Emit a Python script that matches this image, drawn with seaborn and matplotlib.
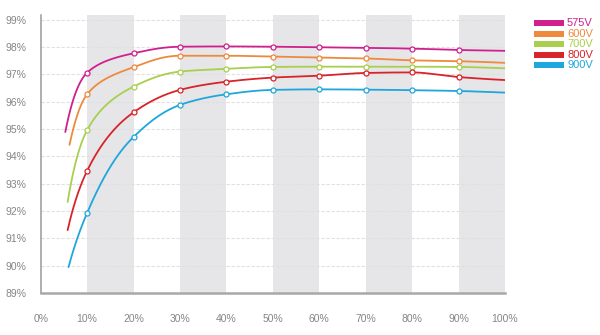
import numpy as np
import pandas as pd
import matplotlib
matplotlib.use("Agg")
import matplotlib.pyplot as plt
from matplotlib.lines import Line2D
import seaborn as sns

# ---- data ----
series = ["575V", "600V", "700V", "800V", "900V"]
colors = ["#d0208e", "#ee8a3c", "#a8cf4e", "#d8232a", "#1fa6dc"]
load_pts = [10, 20, 30, 40, 50, 60, 70, 80, 90, 100]
start_load = [5.3, 6.2, 5.8, 5.8, 6.0]
start_eff = [94.89, 94.42, 92.33, 91.30, 89.95]
eff_575 = [97.06, 97.77, 98.01, 98.02, 98.01, 97.99, 97.97, 97.94, 97.89, 97.86]
eff_600 = [96.27, 97.26, 97.68, 97.68, 97.65, 97.61, 97.58, 97.51, 97.48, 97.42]
eff_700 = [94.96, 96.55, 97.10, 97.20, 97.27, 97.28, 97.28, 97.28, 97.27, 97.22]
eff_800 = [93.47, 95.61, 96.43, 96.73, 96.88, 96.95, 97.05, 97.07, 96.90, 96.79]
eff_900 = [91.93, 94.71, 95.88, 96.27, 96.43, 96.45, 96.44, 96.42, 96.39, 96.33]
effs = [eff_575, eff_600, eff_700, eff_800, eff_900]
x_ticks = [0, 10, 20, 30, 40, 50, 60, 70, 80, 90, 100]
y_ticks = [89, 90, 91, 92, 93, 94, 95, 96, 97, 98, 99]


def pchip_render(x, y, xs):
    """Monotone cubic Hermite curve (in log-load space) used only to render a smooth line."""
    x = np.log(np.asarray(x, float)); y = np.asarray(y, float)
    xs = np.log(xs)
    h = np.diff(x); d = np.diff(y) / h
    n = len(x); m = np.zeros(n)
    for k in range(1, n - 1):
        if d[k - 1] * d[k] > 0:
            w1 = 2 * h[k] + h[k - 1]; w2 = h[k] + 2 * h[k - 1]
            m[k] = (w1 + w2) / (w1 / d[k - 1] + w2 / d[k])
    def endslope(h0, h1, d0, d1):
        s = ((2 * h0 + h1) * d0 - h0 * d1) / (h0 + h1)
        if np.sign(s) != np.sign(d0):
            s = 0.0
        elif np.sign(d0) != np.sign(d1) and abs(s) > abs(3 * d0):
            s = 3 * d0
        return s
    m[0] = endslope(h[0], h[1], d[0], d[1])
    m[-1] = endslope(h[-1], h[-2], d[-1], d[-2])
    idx = np.clip(np.searchsorted(x, xs) - 1, 0, n - 2)
    t = (xs - x[idx]) / h[idx]
    h00 = 2 * t**3 - 3 * t**2 + 1; h10 = t**3 - 2 * t**2 + t
    h01 = -2 * t**3 + 3 * t**2; h11 = t**3 - t**2
    return h00 * y[idx] + h10 * h[idx] * m[idx] + h01 * y[idx + 1] + h11 * h[idx] * m[idx + 1]


curve_rows = []
point_rows = []
for name, sx, sy, ev in zip(series, start_load, start_eff, effs):
    xk = [sx] + load_pts
    yk = [sy] + ev
    xs = np.linspace(sx, 100, 500)
    ys = pchip_render(xk, yk, xs)
    curve_rows.append(pd.DataFrame({"load": xs, "eff": ys, "series": name}))
    point_rows.append(pd.DataFrame({"load": load_pts[:-1], "eff": ev[:-1], "series": name}))
curves = pd.concat(curve_rows, ignore_index=True)
points = pd.concat(point_rows, ignore_index=True)

sns.set_theme(style="white")
plt.rcParams["font.family"] = ["Liberation Sans", "DejaVu Sans"]

fig = plt.figure(figsize=(6.0, 3.35), dpi=100)
ax = fig.add_axes([40.7 / 600, 1 - 293 / 335, (505 - 40.7) / 600, (293 - 15) / 335])

for a in range(10, 100, 20):
    ax.axvspan(a, a + 10, color="#e6e6e8", zorder=0.1, lw=0)

for yv in y_ticks[1:]:
    ax.axhline(yv, color="#e0e0e0", lw=0.8, ls=(0, (3, 1.5)), zorder=0.3)

palette = dict(zip(series, colors))
sns.lineplot(data=curves, x="load", y="eff", hue="series", palette=palette,
             sort=False, estimator=None, legend=False, lw=1.3, ax=ax, zorder=3)
for name, c in zip(series, colors):
    sub = points[points["series"] == name]
    sns.scatterplot(data=sub, x="load", y="eff", color="white", edgecolor=c,
                    s=13, linewidth=0.9, ax=ax, zorder=4, legend=False)

ax.set_xlim(0, 100)
ax.set_ylim(89, 99.17)
ax.set_xticks(x_ticks)
ax.set_xticklabels([f"{v}%" for v in x_ticks])
ax.set_yticks(y_ticks)
ax.set_yticklabels([f"{v}%" for v in y_ticks])
ax.tick_params(axis="both", length=0, labelsize=7.5, labelcolor="#858585")
ax.tick_params(axis="x", pad=15)
ax.tick_params(axis="y", pad=10)
ax.set_xlabel("")
ax.set_ylabel("")
ax.grid(False)
for s in ["top", "right"]:
    ax.spines[s].set_visible(False)
ax.spines["left"].set_color("#9a9a9a")
ax.spines["left"].set_linewidth(1.1)
ax.spines["bottom"].set_color("#a8a8a8")
ax.spines["bottom"].set_linewidth(1.8)

# legend (manual, at the right)
row_y = [23.3, 34.0, 44.3, 54.5, 65.3]
for name, c, py in zip(series, colors, row_y):
    yf = 1 - py / 335
    fig.add_artist(Line2D([534 / 600, 564 / 600], [yf, yf], color=c, lw=4.3,
                          transform=fig.transFigure, solid_capstyle="butt"))
    fig.text(567 / 600, yf, name, color=c, fontsize=8, va="center", ha="left")

fig.savefig("out.png", dpi=100)
